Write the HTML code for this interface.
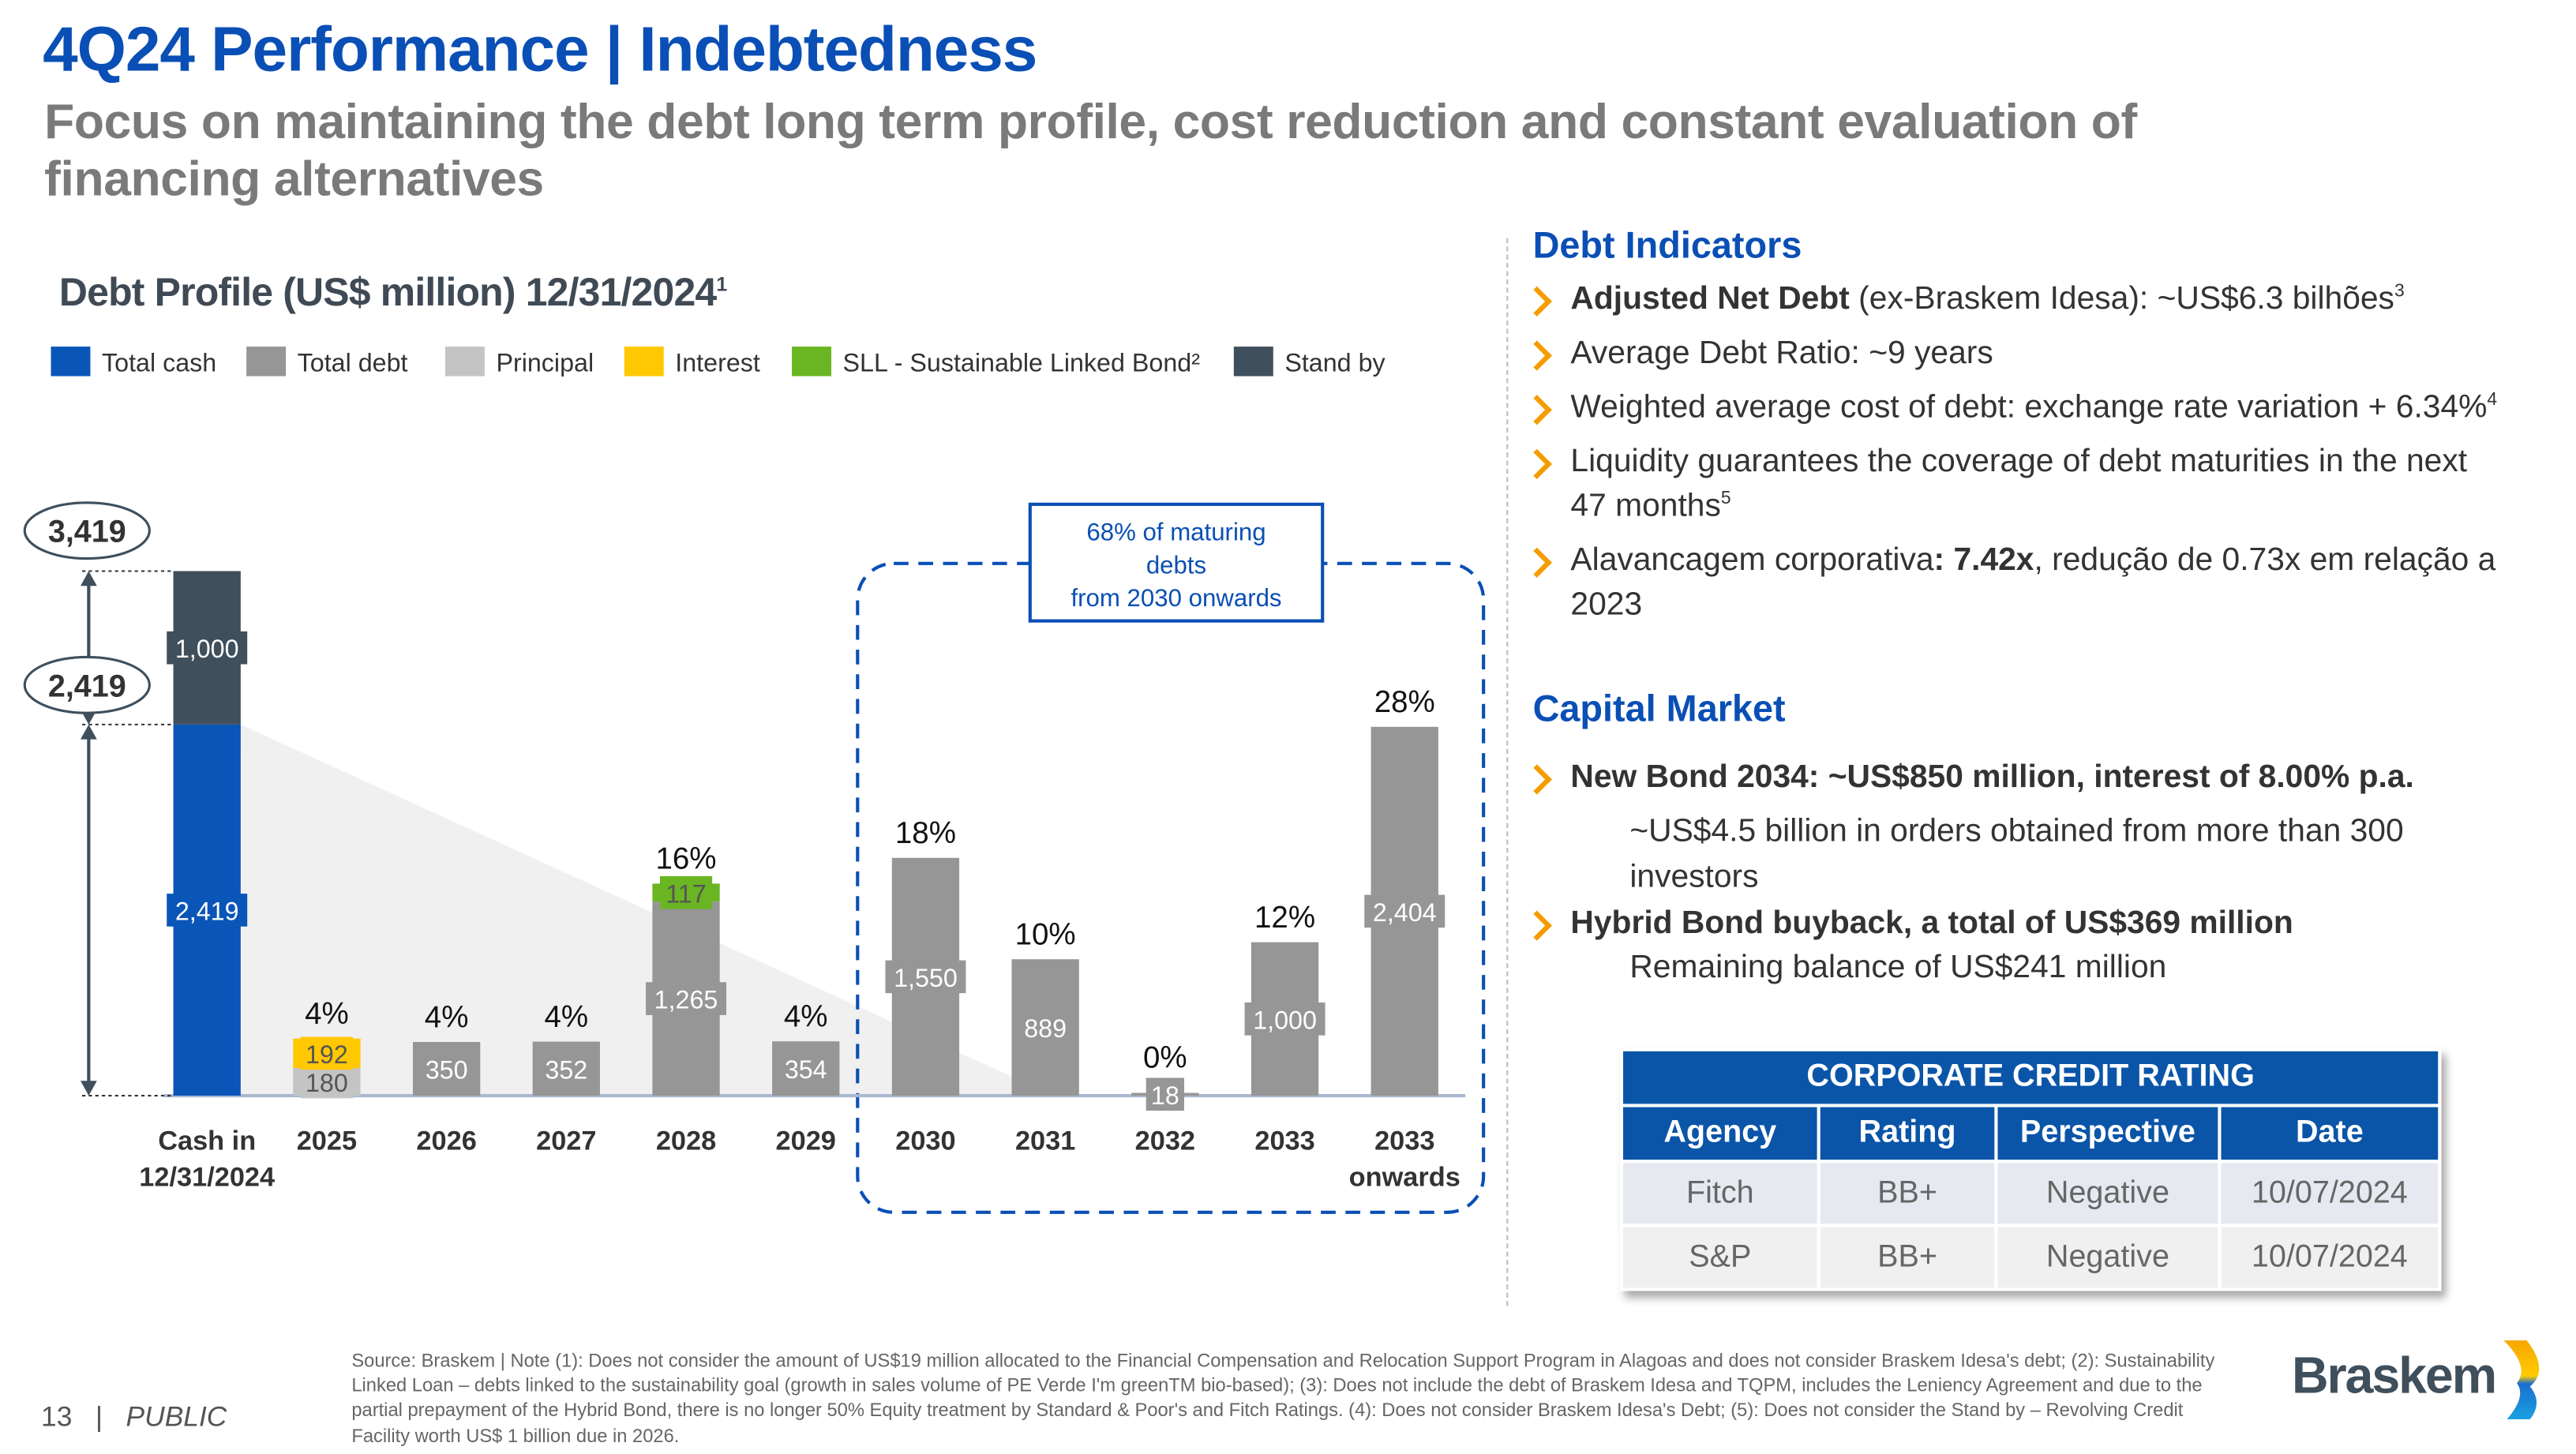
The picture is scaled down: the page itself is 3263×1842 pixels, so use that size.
<!DOCTYPE html>
<html><head><meta charset="utf-8">
<style>
html,body{margin:0;padding:0;background:#fff;width:3263px;height:1842px;overflow:hidden}
#wrap{position:absolute;left:0;top:0;width:1568px;height:885px;transform:scale(2.081);transform-origin:0 0;font-family:"Liberation Sans",sans-serif}
.a{position:absolute;white-space:nowrap}
.t1{left:26px;top:9px;font-size:38.5px;font-weight:bold;color:#0a4fb5;letter-spacing:-0.5px}
.t2{left:27px;top:57px;font-size:30px;font-weight:bold;color:#7a7a7a;line-height:35px;letter-spacing:-0.2px;white-space:normal;width:1400px}
.bl{font-size:19.6px;color:#333}
.chev{position:absolute;width:10px;height:10px;border-right:3px solid #f59c00;border-top:3px solid #f59c00;transform:rotate(45deg)}
.h2{font-size:22.5px;font-weight:bold;color:#0a4fb5}
table{border-collapse:separate;border-spacing:2px}
</style></head><body>
<div id="wrap">
<div class="a t1">4Q24 Performance | Indebtedness</div>
<div class="a t2">Focus on maintaining the debt long term profile, cost reduction and constant evaluation of financing alternatives</div>
<div class="a" style="left:36px;top:165px;font-size:24px;font-weight:bold;color:#3f4a55;letter-spacing:-0.4px">Debt Profile (US$ million) 12/31/2024<sup style="font-size:12px">1</sup></div>
<div class="a" style="left:917px;top:145px;height:650px;border-left:1px dashed #bbb"></div>

<svg class="a" style="left:0;top:0" width="910" height="800" id="chart"></svg>

<div class="a h2" style="left:933px;top:137px">Debt Indicators</div>
<div class="a h2" style="left:933px;top:419px">Capital Market</div>

<div class="a" style="left:986px;top:638px;box-shadow:3px 4px 5px rgba(0,0,0,0.35)">
<table style="width:500px;font-size:19px;text-align:center">
<tr><td colspan="4" style="background:#0a55a8;color:#fff;font-weight:bold;height:30px;font-size:19px">CORPORATE CREDIT RATING</td></tr>
<tr style="background:#0a55a8;color:#fff;font-weight:bold;height:32px"><td style="width:116px">Agency</td><td style="width:104px">Rating</td><td style="width:132px">Perspective</td><td>Date</td></tr>
<tr style="background:#e6e9f0;color:#666;height:37px"><td>Fitch</td><td>BB+</td><td>Negative</td><td>10/07/2024</td></tr>
<tr style="background:#f0f0f0;color:#666;height:37px"><td>S&amp;P</td><td>BB+</td><td>Negative</td><td>10/07/2024</td></tr>
</table></div>

<div class="a" style="left:25px;top:853px;font-size:17px;color:#555">13 &nbsp;&nbsp;| &nbsp;&nbsp;<i>PUBLIC</i></div>
<div class="a" style="left:214px;top:822px;font-size:11.4px;color:#666;line-height:15.2px;white-space:normal;width:1150px">Source: Braskem | Note (1): Does not consider the amount of US$19 million allocated to the Financial Compensation and Relocation Support Program in Alagoas and does not consider Braskem Idesa's debt; (2): Sustainability Linked Loan – debts linked to the sustainability goal (growth in sales volume of PE Verde I'm greenTM bio-based); (3): Does not include the debt of Braskem Idesa and TQPM, includes the Leniency Agreement and due to the partial prepayment of the Hybrid Bond, there is no longer 50% Equity treatment by Standard &amp; Poor's and Fitch Ratings. (4): Does not consider Braskem Idesa's Debt; (5): Does not consider the Stand by – Revolving Credit Facility worth US$ 1 billion due in 2026.</div>
<div class="a" style="left:1395px;top:820px;font-size:31px;font-weight:bold;color:#3f4f5c;letter-spacing:-1px">Braskem</div>
<svg class="a" style="left:1518px;top:814px" width="40" height="52">
<defs><linearGradient id="lg" x1="0" y1="0" x2="0" y2="1"><stop offset="0" stop-color="#f7a600"/><stop offset="0.45" stop-color="#ffcc00"/><stop offset="0.55" stop-color="#1a6fd0"/><stop offset="1" stop-color="#1aa0e0"/></linearGradient></defs>
<path d="M6 2 L20 2 Q34 20 22 30 Q30 40 22 50 L8 50 Q20 36 14 28 Q22 18 6 2Z" fill="url(#lg)"/></svg>
</div>

<script>
const categories=["Cash in|12/31/2024","2025","2026","2027","2028","2029","2030","2031","2032","2033","2033|onwards"];
const principalVals=[0,180,0,0,0,0,0,0,0,0,0];
const interestVals=[0,192,0,0,0,0,0,0,0,0,0];
const debtVals=[0,0,350,352,1265,354,1550,889,18,1000,2404];
const sllVals=[0,0,0,0,117,0,0,0,0,0,0];
const cashVals=[2419,0,0,0,0,0,0,0,0,0,0];
const standbyVals=[1000,0,0,0,0,0,0,0,0,0,0];
const pctLabels=["","4%","4%","4%","16%","4%","18%","10%","0%","12%","28%"];
const legendLabels=["Total cash","Total debt","Principal","Interest","SLL - Sustainable Linked Bond²","Stand by"];

const NS="http://www.w3.org/2000/svg";
const svg=document.getElementById('chart');
const baseY=667,pxPer=0.0934,x0=126,step=72.9,bw=41;
const y=v=>baseY-v*pxPer;
const xc=i=>x0+i*step;
function el(t,a,p){const e=document.createElementNS(NS,t);for(const k in a)e.setAttribute(k,a[k]);(p||svg).appendChild(e);return e;}
function txt(s,x,yy,a){const e=el('text',Object.assign({x:x,y:yy,'font-family':'Liberation Sans, sans-serif'},a));e.textContent=s;return e;}

const legColors=["#0a55b8","#969696","#c4c4c4","#ffc800","#6ab522","#3f4f5c"];
const legX=[31,150,271,380,482,751];
legendLabels.forEach((l,i)=>{
  const r=el('rect',{x:legX[i],y:211,width:24,height:18,fill:legColors[i]});
  
  
  const t=txt(l,legX[i]+31,226,{'font-size':15.5,fill:'#333'});
  
  
});

const tri=el('polygon',{points:`${xc(0)+bw/2},${y(cashVals[0])} ${xc(0)+bw/2},${baseY} ${xc(7)+5},${baseY}`,fill:'#f0f0f0'});



const db=el('rect',{x:522,y:343,width:381,height:395,rx:22,fill:'none',stroke:'#0a4fb5','stroke-width':2,'stroke-dasharray':'9,6'});



el('line',{x1:100,y1:baseY,x2:892,y2:baseY,stroke:'#aab8d0','stroke-width':2});

function label(s,cx,cy,bg,fg){
  const w=s.length*8.6+6;
  const r=el('rect',{x:cx-w/2,y:cy-10,width:w,height:20,fill:bg});
  
  
  const t=txt(s,cx,cy+6,{'font-size':15.5,fill:fg,'text-anchor':'middle'});
  
  
}
const fmt=v=>v.toLocaleString('en-US');

categories.forEach((c,i)=>{
  const cx=xc(i),x=cx-bw/2;let top=0;
  const stack=[[cashVals[i],'#0a55b8','#fff','cash'],[standbyVals[i],'#3f4f5c','#fff','standby'],[principalVals[i],'#c4c4c4','#555','principal'],[interestVals[i],'#ffc800','#555','interest'],[debtVals[i],'#969696','#fff','debt'],[sllVals[i],'#6ab522','#555','sll']];
  const labs=[];
  stack.forEach(([v,col,fg,nm])=>{
    if(!v)return;
    const r=el('rect',{x:x,y:y(top+v),width:bw,height:v*pxPer,fill:col});
    
    
    labs.push([fmt(v),cx,Math.min(y(top+v/2),baseY),col,fg]);
    top+=v;
  });
  labs.forEach(l=>label(...l));
  if(pctLabels[i]){
    const t=txt(pctLabels[i],cx,Math.min(y(top)-9,baseY-17),{'font-size':18.5,fill:'#111','text-anchor':'middle'});
    
    
  }
  c.split('|').forEach((p,k)=>{
    const t=txt(p,cx,700+k*22,{'font-size':16.5,'font-weight':'bold',fill:'#333','text-anchor':'middle'});
    
    
  });
});

const total=cashVals[0]+standbyVals[0];
[[total],[cashVals[0]],[0]].forEach(([v])=>el('line',{x1:50,y1:y(v),x2:106,y2:y(v),stroke:'#333','stroke-dasharray':'2,2'}));
function arrow(y1,y2){
  el('line',{x1:54,y1:y1+8,x2:54,y2:y2-8,stroke:'#3f4f5c','stroke-width':2});
  el('polygon',{points:`49,${y1+9} 59,${y1+9} 54,${y1}`,fill:'#3f4f5c'});
  el('polygon',{points:`49,${y2-9} 59,${y2-9} 54,${y2}`,fill:'#3f4f5c'});
}
arrow(y(total),y(cashVals[0]));arrow(y(cashVals[0]),baseY);
[[fmt(total),323],[fmt(cashVals[0]),417]].forEach(([s,cy])=>{
  const e=el('ellipse',{cx:53,cy:cy,rx:38,ry:17,fill:'#fff',stroke:'#3f4f5c','stroke-width':1.5});
  
  
  const t=txt(s,53,cy+7,{'font-size':19,'font-weight':'bold',fill:'#333','text-anchor':'middle'});
  
  
});

const cb=el('rect',{x:627,y:307,width:178,height:71,fill:'#fff',stroke:'#0a4fb5','stroke-width':2});


["68% of maturing","debts","from 2030 onwards"].forEach((s,k)=>{
  const t=txt(s,716,329+k*20,{'font-size':15,fill:'#0a4fb5','text-anchor':'middle'});
  
  
});

const items=[
 [933,956,171,'<b>Adjusted Net Debt</b> (ex-Braskem Idesa): ~US$6.3 bilhões<sup style="font-size:11px">3</sup>',1],
 [933,956,204,'Average Debt Ratio: ~9 years',1],
 [933,956,237,'Weighted average cost of debt: exchange rate variation + 6.34%<sup style="font-size:11px">4</sup>',1],
 [933,956,270,'Liquidity guarantees the coverage of debt maturities in the next',1],
 [0,956,297,'47 months<sup style="font-size:11px">5</sup>',0],
 [933,956,330,'Alavancagem corporativa<b>: 7.42x</b>, redução de 0.73x em relação a',1],
 [0,956,357,'2023',0],
 [933,956,462,'<b>New Bond 2034: ~US$850 million, interest of 8.00% p.a.</b>',1],
 [0,992,495,'~US$4.5 billion in orders obtained from more than 300',0],
 [0,992,523,'investors',0],
 [933,956,551,'<b>Hybrid Bond buyback, a total of US$369 million</b>',1],
 [0,992,578,'Remaining balance of US$241 million',0]];
const wrap=document.getElementById('wrap');
items.forEach(([cx,tx,ty,h,ch])=>{
  const d=document.createElement('div');
  d.className='a bl';d.style.left=tx+'px';d.style.top=ty+'px';d.innerHTML=h;
  
  
  wrap.appendChild(d);
  if(ch){const c=document.createElement('div');c.className='chev';c.style.left=(cx-4)+'px';c.style.top=(ty+6)+'px';
    
    
    wrap.appendChild(c);}
});
</script>
</body></html>
